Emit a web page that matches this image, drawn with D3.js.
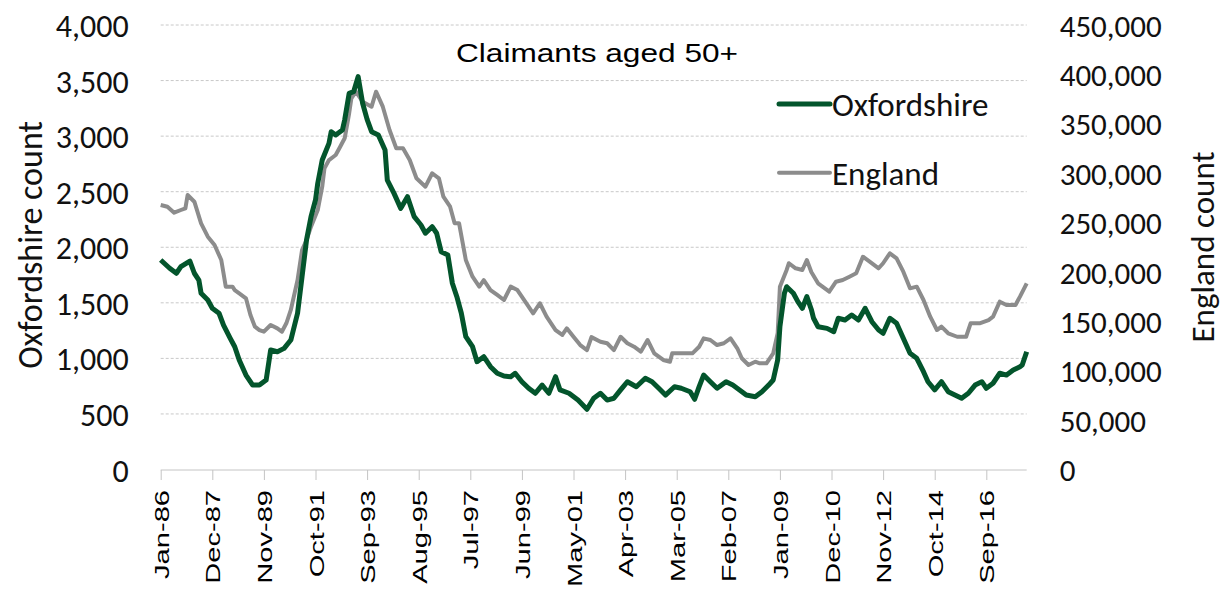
<!DOCTYPE html>
<html>
<head>
<meta charset="utf-8">
<script src="https://cdn.jsdelivr.net/npm/d3@7"></script>
<style>
  body { margin: 0; background: #fff; }
  svg { display: block; }
</style>
</head>
<body>
<script>
// months counted from Jan-86
var oxMonth = [0,4,7,9,13,15,17,18,21,23,26,28,31,33,35,38,41,44,47,49,52,55,58,61,63,65,67,69,70,72,
  75,76,78,81,82,84,86,88,90,92,94,97,100,101,104,107,110,113,116,118,121,123,125,128,130,132,134,136,139,141,
  144,147,150,153,156,158,161,164,167,170,173,176,178,182,186,190,193,196,199,202,205,208,212,216,219,222,225,229,232,236,
  238,240,242,245,248,252,255,258,261,265,268,271,273,275,276,278,279,282,284,286,288,290,291,293,297,300,302,305,308,311,
  314,317,320,322,325,328,331,334,337,340,342,345,348,351,354,357,360,363,366,368,371,374,377,380,383,384,386];
var oxCount = [1885,1811,1766,1826,1876,1766,1705,1586,1525,1451,1406,1300,1181,1105,985,850,760,760,805,1075,1060,1090,1165,1406,1735,2065,2275,2425,2575,2785,
  2935,3040,3010,3055,3145,3385,3400,3535,3296,3150,3040,3010,2875,2605,2485,2350,2455,2275,2200,2126,2185,2126,1960,1930,1676,1555,1406,1195,1105,970,
  1015,925,866,841,835,866,790,731,686,760,686,835,716,686,625,542,641,686,625,641,716,790,745,821,790,731,670,745,731,700,
  632,745,850,790,731,790,760,716,670,655,700,760,805,985,1285,1586,1645,1586,1510,1451,1555,1440,1361,1285,1270,1240,1361,1345,1390,1345,
  1451,1330,1255,1226,1361,1316,1181,1046,1001,880,790,716,790,700,670,641,686,760,790,731,776,866,850,895,925,940,1060];

var engMonth = [0,3,6,9,11,12,15,18,21,24,27,29,32,33,35,38,40,42,44,46,49,52,54,56,58,61,63,65,67,70,
  72,73,75,78,80,82,84,85,87,90,94,96,99,102,105,108,111,114,118,121,124,126,129,131,133,136,139,142,144,147,
  150,153,156,159,163,166,169,172,176,179,181,184,187,190,192,196,199,202,205,208,211,214,217,220,224,227,228,233,237,240,
  242,245,248,251,254,257,259,262,265,267,270,273,275,276,279,280,283,286,288,290,293,298,301,304,307,310,313,316,320,322,
  325,328,331,334,337,340,343,346,348,351,355,359,361,365,369,371,374,377,381,383,386];
var engCount = [267800,266000,260000,262700,264400,277900,271100,249200,235700,227300,212100,185100,185100,181700,178400,173300,156400,144600,141200,139500,146300,142900,139500,148000,161500,191800,222200,232300,245800,262700,
  286300,304900,313300,318400,326800,335300,360600,375800,382500,372400,367300,382500,367300,343700,325200,325200,313300,294800,286300,299900,294800,276200,266100,249200,249200,212100,195200,185100,191800,181700,
  176700,171600,185100,181700,168300,158100,168300,154700,141200,136200,142900,134400,126000,120900,134000,129400,127800,120900,134400,127800,124300,119300,131100,117600,110900,109100,117600,117600,117600,124300,
  132800,131100,126000,127800,132800,122700,112600,105800,109100,107500,107500,117600,137900,185100,202000,208800,203700,202000,212100,200000,188500,180000,190100,191800,195200,198600,215400,210400,203700,208800,
  218900,213800,200300,183400,185100,171600,154700,141200,144600,137900,134400,134400,148000,148000,151300,154700,169900,166500,166500,175000,188500];

var leftTicks = [0,500,1000,1500,2000,2500,3000,3500,4000];
var rightTicks = [0,50000,100000,150000,200000,250000,300000,350000,400000,450000];
var monthTicks = [0,23,46,69,92,115,138,161,184,207,230,253,276,299,322,345,368];
var lastMonth = 386;

var width = 1225, height = 594;
var calibri = "Carlito, Calibri, Lato, sans-serif";
var arial = "Arial, 'Liberation Sans', sans-serif";

var svg = d3.select("body").append("svg")
    .attr("width", width)
    .attr("height", height);

var x = d3.scaleLinear().domain([0, lastMonth]).range([160.7, 1026.7]);
var yL = d3.scaleLinear().domain([0, 4000]).range([469.5, 25]);
var yR = d3.scaleLinear().domain([0, 450000]).range([469.5, 25]);

var start = new Date(1986, 0, 1);
var fmt = d3.timeFormat("%b-%y");

// gridlines
svg.append("g").selectAll("line")
    .data(leftTicks.slice(1))
  .enter().append("line")
    .attr("x1", x(0)).attr("x2", x(lastMonth))
    .attr("y1", function(d) { return yL(d); })
    .attr("y2", function(d) { return yL(d); })
    .style("stroke", "#c8c8c8")
    .style("stroke-width", 1)
    .style("stroke-dasharray", "3,2");

// left axis
var gL = svg.append("g")
    .attr("transform", "translate(" + x(0) + ",0)")
    .call(d3.axisLeft(yL).tickValues(leftTicks).tickSize(0).tickPadding(32).tickFormat(d3.format(",")));
gL.select(".domain").remove();
gL.selectAll("text").style("font-family", calibri).style("font-size", "32px").style("fill", "#111").attr("dy", "0.36em");

// right axis
var gR = svg.append("g")
    .attr("transform", "translate(" + x(lastMonth) + ",0)")
    .call(d3.axisRight(yR).tickValues(rightTicks).tickSize(0).tickPadding(33).tickFormat(d3.format(",")));
gR.select(".domain").remove();
gR.selectAll("text").style("font-family", calibri).style("font-size", "31px").style("fill", "#111").attr("dy", "0.36em");

// bottom axis
var gB = svg.append("g")
    .attr("transform", "translate(0,470)")
    .call(d3.axisBottom(x).tickValues(monthTicks).tickSize(10)
      .tickFormat(function(m) { return fmt(d3.timeMonth.offset(start, m)); }));
gB.select(".domain").attr("d", "M" + x(0) + ",0H" + x(lastMonth)).style("stroke", "#c4c4c4");
gB.selectAll(".tick line").style("stroke", "#c4c4c4");
gB.selectAll("text")
    .attr("x", 0).attr("y", 0).attr("dy", 0)
    .attr("text-anchor", "end")
    .attr("transform", "translate(7.5,20) rotate(-90) scale(1.42,1)")
    .style("font-family", arial).style("font-size", "20.5px").style("fill", "#000");

// lines
var engLine = d3.line()
    .x(function(d, i) { return x(engMonth[i]); })
    .y(function(d) { return yR(d); });
var oxLine = d3.line()
    .x(function(d, i) { return x(oxMonth[i]); })
    .y(function(d) { return yL(d); });

svg.append("path")
    .datum(engCount)
    .attr("d", engLine)
    .style("fill", "none")
    .style("stroke", "#8c8c8c")
    .style("stroke-width", 4)
    .style("stroke-linejoin", "round");

svg.append("path")
    .datum(oxCount)
    .attr("d", oxLine)
    .style("fill", "none")
    .style("stroke", "#03552c")
    .style("stroke-width", 5)
    .style("stroke-linejoin", "round");

// title
svg.append("text")
    .attr("x", 597).attr("y", 62)
    .attr("text-anchor", "middle")
    .attr("textLength", 282).attr("lengthAdjust", "spacingAndGlyphs")
    .style("font-family", arial).style("font-size", "26px").style("fill", "#000")
    .text("Claimants aged 50+");

// axis titles
svg.append("text")
    .attr("transform", "translate(42,245) rotate(-90)")
    .attr("text-anchor", "middle")
    .style("font-family", calibri).style("font-size", "34px").style("fill", "#111")
    .text("Oxfordshire count");
svg.append("text")
    .attr("transform", "translate(1214,247) rotate(-90)")
    .attr("text-anchor", "middle")
    .style("font-family", calibri).style("font-size", "33px").style("fill", "#111")
    .text("England count");

// legend
var legend = [
  {name: "Oxfordshire", color: "#03552c", w: 5, y: 104},
  {name: "England", color: "#8c8c8c", w: 4, y: 172.7}
];
var lg = svg.append("g").selectAll("g").data(legend).enter().append("g");
lg.append("line")
    .attr("x1", 779).attr("x2", 830)
    .attr("y1", function(d) { return d.y; }).attr("y2", function(d) { return d.y; })
    .style("stroke", function(d) { return d.color; })
    .style("stroke-width", function(d) { return d.w; })
    .style("stroke-linecap", "round");
lg.append("text")
    .attr("x", 832)
    .attr("y", function(d) { return d.y; })
    .attr("dy", "0.36em")
    .style("font-family", calibri).style("font-size", "33px").style("fill", "#111")
    .text(function(d) { return d.name; });
</script>
</body>
</html>
